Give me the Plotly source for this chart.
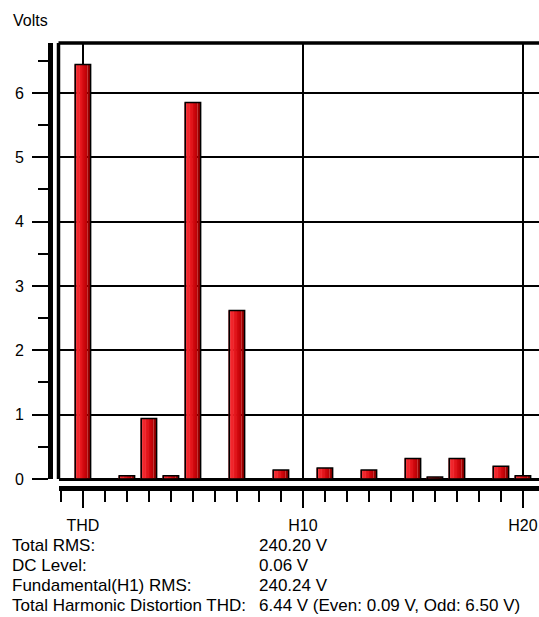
import plotly.graph_objects as go

# ---- data ----
categories = ["THD"] + [f"H{i}" for i in range(1, 21)]
volts = [6.44, 0.0, 0.05, 0.94, 0.05, 5.85, 0.0, 2.62, 0.0, 0.14, 0.0,
         0.17, 0.0, 0.14, 0.0, 0.32, 0.03, 0.32, 0.0, 0.20, 0.05]
tick_positions = [0, 10, 20]
tick_labels = ["THD", "H10", "H20"]
info_labels = ["Total RMS:", "DC Level:", "Fundamental(H1) RMS:", "Total Harmonic Distortion THD:"]
info_values = ["240.20 V", "0.06 V", "240.24 V", "6.44 V (Even: 0.09 V, Odd: 6.50 V)"]

W, H = 539, 617
ML, MR, MT, MB = 50, 0, 43, 129
PW = W - ML - MR
PH = H - MT - MB
xpos = list(range(len(categories)))

FONT = "Liberation Sans, Arial, sans-serif"
FS = 16
FS_INFO = 17

fig = go.Figure()

# gradient strips to mimic shaded bars
bar_w = 0.70
strip_colors = ["#e01a22", "#f42a30", "#f0242a", "#ea1c22", "#e2141a", "#d80c12",
                "#cc060c", "#bc0206", "#a80000", "#900000"]
n = len(strip_colors)
sw = bar_w / n
for k, c in enumerate(strip_colors):
    fig.add_trace(go.Bar(
        x=xpos, y=volts, width=sw * 1.02, offset=-bar_w / 2 + k * sw,
        marker=dict(color=c, line=dict(width=0)),
        hoverinfo="skip", showlegend=False,
    ))
# outline
fig.add_trace(go.Bar(
    x=xpos, y=volts, width=bar_w, offset=-bar_w / 2,
    marker=dict(color="rgba(0,0,0,0)", line=dict(color="black", width=1.5)),
    showlegend=False, hovertext=categories,
))

xd0 = 8.5 / PW
yd0 = 9 / PH

fig.update_layout(
    width=W, height=H,
    margin=dict(l=ML, r=MR, t=MT, b=MB, pad=0),
    paper_bgcolor="white", plot_bgcolor="white",
    barmode="overlay",
    font=dict(family=FONT, size=FS, color="black"),
    xaxis=dict(
        domain=[xd0, 1], range=[-1.11, 20.73],
        anchor="free", position=0,
        tickmode="array", tickvals=tick_positions, ticktext=tick_labels,
        ticks="outside", ticklen=17, tickwidth=1.5, tickcolor="black",
        minor=dict(dtick=1, tick0=0, ticks="outside", ticklen=11, tickwidth=1.5,
                   tickcolor="black", showgrid=False),
        showgrid=True, gridcolor="black", gridwidth=1.5,
        showline=True, linecolor="black", linewidth=5,
        zeroline=False, ticklabelstandoff=4,
        tickfont=dict(family=FONT, size=FS, color="black"),
    ),
    yaxis=dict(
        domain=[yd0, 1], range=[0, 6.776],
        anchor="free", position=0,
        tickmode="linear", tick0=0, dtick=1,
        ticks="outside", ticklen=16, tickwidth=1.5, tickcolor="black",
        minor=dict(dtick=0.5, ticks="outside", ticklen=10, tickwidth=1.5,
                   tickcolor="black", showgrid=False),
        showgrid=True, gridcolor="black", gridwidth=1.5,
        showline=True, linecolor="black", linewidth=5,
        zeroline=True, zerolinecolor="black", zerolinewidth=3,
        ticklabelstandoff=5,
        tickfont=dict(family=FONT, size=FS, color="black"),
    ),
    shapes=[
        dict(type="line", xref="paper", yref="paper", x0=xd0, x1=xd0, y0=yd0, y1=1,
             line=dict(color="black", width=3.5), layer="above"),
        dict(type="line", xref="paper", yref="paper", x0=xd0, x1=1, y0=1, y1=1,
             line=dict(color="black", width=3.5), layer="above"),
    ],
)

def px_x(sx):
    return (sx - ML) / PW

def px_y(sy):
    return (H - MB - sy) / PH

annotations = [dict(text="Volts", x=px_x(11), y=px_y(20), xref="paper", yref="paper",
                    xanchor="left", yanchor="middle", showarrow=False,
                    font=dict(family=FONT, size=FS, color="black"))]
rows_y = [545, 565, 585, 605]
for lab, val, ry in zip(info_labels, info_values, rows_y):
    annotations.append(dict(text=lab, x=px_x(10), y=px_y(ry), xref="paper", yref="paper",
                            xanchor="left", yanchor="middle", showarrow=False,
                            font=dict(family=FONT, size=FS_INFO, color="black")))
    annotations.append(dict(text=val, x=px_x(257), y=px_y(ry), xref="paper", yref="paper",
                            xanchor="left", yanchor="middle", showarrow=False,
                            font=dict(family=FONT, size=FS_INFO, color="black")))
fig.update_layout(annotations=annotations)

fig.write_html(
    "out.html",
    config={"displayModeBar": False},
    post_script="document.body.style.margin='0px';document.body.style.overflow='hidden';",
)
